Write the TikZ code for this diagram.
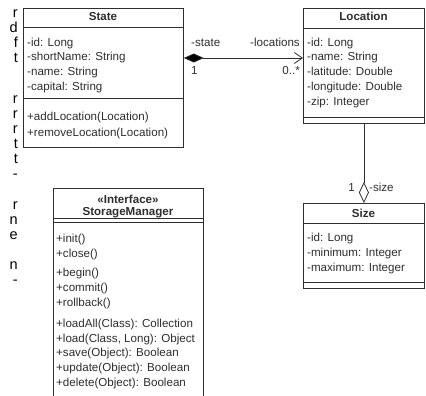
\documentclass[tikz,border=0pt]{standalone}
\usepackage{fontspec}
\setmainfont{Liberation Sans}
\usetikzlibrary{arrows.meta,calc}
\definecolor{ink}{HTML}{2E2E2E}
\begin{document}
\begin{tikzpicture}[x=1pt,y=-1pt,
  umlbox/.style={draw=ink, line width=0.8pt, fill=white, inner sep=0pt, anchor=north west},
  sep/.style={draw=ink, line width=0.8pt},
  txt/.style={anchor=base west, inner sep=0pt, font=\fontsize{11.6}{13}\selectfont, text=ink},
  ttl/.style={anchor=base, inner sep=0pt, font=\fontsize{11.6}{13}\selectfont\bfseries, text=ink},
  lbl/.style={inner sep=0pt, font=\fontsize{11.6}{13}\selectfont, text=ink},
  marg/.style={anchor=base east, inner sep=0pt, font=\fontsize{14.5}{16}\selectfont, text=black},
  conn/.style={draw=ink, line width=0.8pt}]
\useasboundingbox (0,0) rectangle (426,396);

% text cut off at the right edge of the neighbouring column
\node[marg] (m1)  at (18,18)  {r};
\node[marg] (m2)  at (18,33)  {d};
\node[marg] (m3)  at (18,48)  {f};
\node[marg] (m4)  at (18,63)  {t};
\node[marg] (m5)  at (18,103) {r};
\node[marg] (m6)  at (18,118) {r};
\node[marg] (m7)  at (18,133) {r};
\node[marg] (m8)  at (18,148) {t};
\node[marg] (m9)  at (18,163) {t};
\node[marg] (m10) at (18,178) {-};
\node[marg] (m11) at (18,209) {r};
\node[marg] (m12) at (18,224) {n};
\node[marg] (m13) at (18,239) {e};
\node[marg] (m14) at (18,269) {n};
\node[marg] (m15) at (18,284) {-};

% ---- State ----
\node[umlbox, minimum width=160pt, minimum height=139pt] (state) at (23,8) {};
\draw[sep] ($(state.north west)+(0,19)$) -- ($(state.north east)+(0,19)$);
\draw[sep] ($(state.north west)+(0,90)$) -- ($(state.north east)+(0,90)$);
\node[ttl] (state-t) at (103,21) {State};
\node[txt] (state-a1) at (27,47) {-id: Long};
\node[txt] (state-a2) at (27,61) {-shortName: String};
\node[txt] (state-a3) at (27,76) {-name: String};
\node[txt] (state-a4) at (27,91) {-capital: String};
\node[txt] (state-o1) at (27,121) {+addLocation(Location)};
\node[txt] (state-o2) at (27,136) {+removeLocation(Location)};

% ---- Location ----
\node[umlbox, minimum width=121pt, minimum height=115pt] (location) at (303,8) {};
\draw[sep] ($(location.north west)+(0,20)$) -- ($(location.north east)+(0,20)$);
\draw[sep] ($(location.north west)+(0,109)$) -- ($(location.north east)+(0,109)$);
\node[ttl] (loc-t) at (363.5,21) {Location};
\node[txt] (loc-a1) at (307,47) {-id: Long};
\node[txt] (loc-a2) at (307,61) {-name: String};
\node[txt] (loc-a3) at (307,76) {-latitude: Double};
\node[txt] (loc-a4) at (307,91) {-longitude: Double};
\node[txt] (loc-a5) at (307,106) {-zip: Integer};

% ---- Size ----
\node[umlbox, minimum width=121pt, minimum height=85pt] (size) at (303,203) {};
\draw[sep] ($(size.north west)+(0,20)$) -- ($(size.north east)+(0,20)$);
\draw[sep] ($(size.north west)+(0,79)$) -- ($(size.north east)+(0,79)$);
\node[ttl] (size-t) at (363.5,217) {Size};
\node[txt] (size-a1) at (307,241) {-id: Long};
\node[txt] (size-a2) at (307,256) {-minimum: Integer};
\node[txt] (size-a3) at (307,271) {-maximum: Integer};

% ---- StorageManager (runs past the lower edge) ----
\node[anchor=north west, inner sep=0pt, minimum width=150pt, minimum height=220pt, fill=white] (storage) at (53,188) {};
\draw[sep] (storage.south west) |- (storage.north east) -- (storage.south east);
\draw[sep] ($(storage.north west)+(0,30)$) -- ($(storage.north east)+(0,30)$);
\draw[sep] ($(storage.north west)+(0,34)$) -- ($(storage.north east)+(0,34)$);
\node[ttl] (sm-s) at (128,203) {«Interface»};
\node[ttl] (sm-t) at (128,215) {StorageManager};
\node[txt] (sm-o1)  at (56,242) {+init()};
\node[txt] (sm-o2)  at (56,257) {+close()};
\node[txt] (sm-o3)  at (56,276) {+begin()};
\node[txt] (sm-o4)  at (56,291) {+commit()};
\node[txt] (sm-o5)  at (56,306) {+rollback()};
\node[txt] (sm-o6)  at (56,327) {+loadAll(Class): Collection};
\node[txt] (sm-o7)  at (56,342) {+load(Class, Long): Object};
\node[txt] (sm-o8)  at (56,356) {+save(Object): Boolean};
\node[txt] (sm-o9)  at (56,371) {+update(Object): Boolean};
\node[txt] (sm-o10) at (56,386) {+delete(Object): Boolean};

% ---- State <>-- Location (composition) ----
\draw[conn, {Diamond[length=20pt,width=9pt,fill=black]}-{Straight Barb[length=8pt,width=11pt]}]
  ($(state.north east)+(0,50)$) -- ($(location.north west)+(0,50)$);
\node[lbl, anchor=base west] (lab-state) at (191,47) {-state};
\node[lbl, anchor=base west] (lab-one) at (191,75) {1};
\node[lbl, anchor=base east] (lab-locs) at (300,47) {-locations};
\node[lbl, anchor=base east] (lab-many) at (300,75) {0..*};

% ---- Location --<> Size (aggregation) ----
\draw[conn, -{Diamond[open,length=21pt,width=10pt,fill=white]}]
  (location.south) -- (size.north);
\node[lbl, anchor=base east] (lab-sone) at (355,191) {1};
\node[lbl, anchor=base west] (lab-size) at (369,191) {-size};
\end{tikzpicture}
\end{document}
